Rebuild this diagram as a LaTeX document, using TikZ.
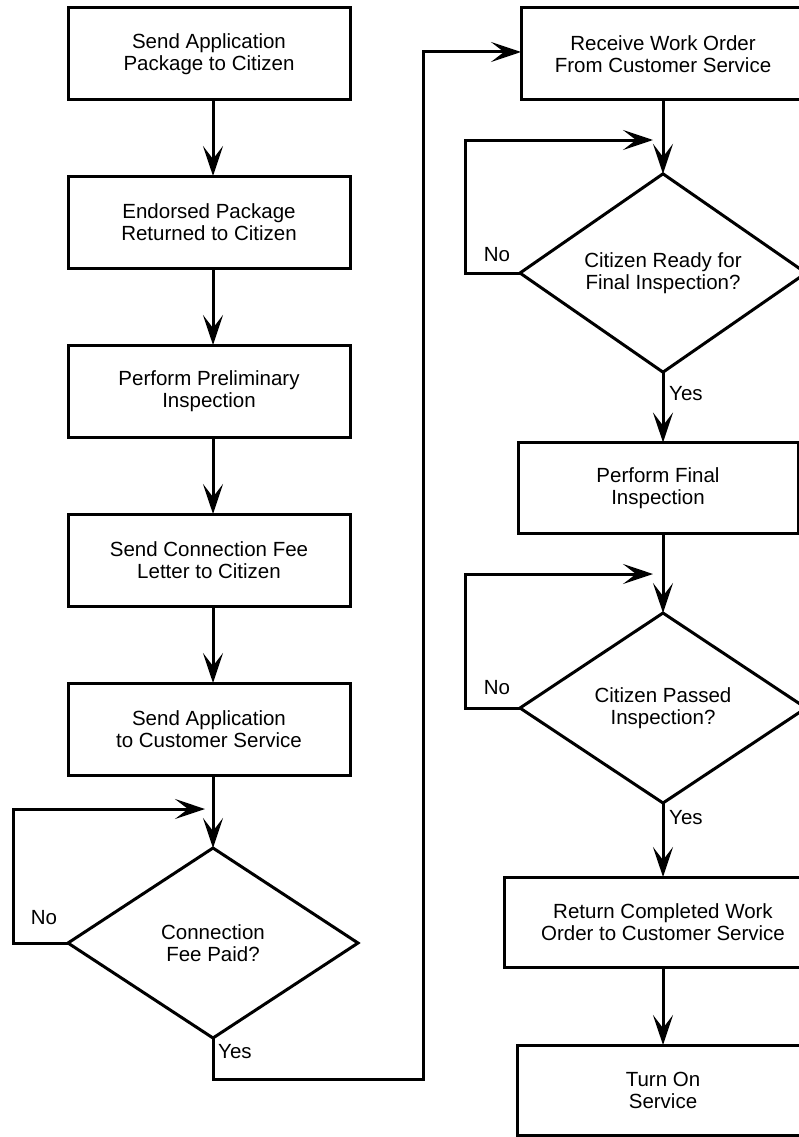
\documentclass[tikz,border=0pt]{standalone}
\usepackage{fontspec}
\setmainfont{Liberation Sans}
\usetikzlibrary{arrows.meta,shapes.geometric,calc}

\begin{document}
\begin{tikzpicture}[x=1pt, y=-1pt,
	box/.style={draw, rectangle, line width=3pt, minimum width=282pt, minimum height=92pt,
		inner sep=0pt, outer sep=0pt, align=center, font=\fontsize{20.5}{22}\selectfont},
	decision/.style={draw, diamond, line width=3pt, minimum width=290pt, minimum height=190pt,
		inner sep=0pt, outer sep=0pt, align=center, font=\fontsize{20.5}{22}\selectfont},
	flow/.style={line width=3pt, -{Stealth[length=30pt, width=20pt, inset=13pt]}},
	tag/.style={inner sep=0pt, font=\fontsize{20.5}{22}\selectfont}]
		
		% Page
		\fill[white] (0,0) rectangle (799,1137);
		\useasboundingbox (0,0) rectangle (799,1137);
		
		% Left column
		\node[box] (send) at (209,54) {Send Application\\Package to Citizen};
		\node[box] (endorsed) at (209,222) {Endorsed Package\\Returned to Citizen};
		\node[box] (prelim) at (209,391) {Perform Preliminary\\Inspection};
		\node[box] (letter) at (209,560) {Send Connection Fee\\Letter to Citizen};
		\node[box] (tocs) at (209,729) {Send Application\\to Customer Service};
		\node[decision] (paid) at (213,943) {Connection\\Fee Paid?};
		
		% Right column
		\node[box, minimum width=284pt] (receive) at (663,54) {Receive Work Order\\From Customer Service};
		\node[decision, minimum width=286pt] (ready) at (663,273) {Citizen Ready for\\Final Inspection?};
		\node[box, minimum width=280pt, minimum height=91pt] (final) at (658,488) {Perform Final\\Inspection};
		\node[decision, minimum width=286pt] (passed) at (663,708) {Citizen Passed\\Inspection?};
		\node[box, minimum width=318pt, minimum height=90pt] (return) at (663,922) {Return Completed Work\\Order to Customer Service};
		\node[box, minimum width=292pt, minimum height=90pt] (turnon) at (663,1090) {Turn On\\Service};
		
		% Coordinates
		\coordinate (j1) at (205,809);
		\coordinate (j2) at (653,140);
		\coordinate (j3) at (653,574);
		\coordinate (yes1) at (213,1079);
		\coordinate (up1) at (423,52);
		
		% Arrows
		\draw[flow] ($(send.south)+(4,0)$) -- ($(endorsed.north)+(4,0)$);
		\draw[flow] ($(endorsed.south)+(4,0)$) -- ($(prelim.north)+(4,0)$);
		\draw[flow] ($(prelim.south)+(4,0)$) -- ($(letter.north)+(4,0)$);
		\draw[flow] ($(letter.south)+(4,0)$) -- ($(tocs.north)+(4,0)$);
		\draw[flow] ($(tocs.south)+(4,0)$) -- (paid.north);
		\draw[flow] (paid.west) -- ++(-55,0) |- (j1);
		\draw[flow] (paid.south) -- (yes1) -| (up1) -- (receive.west |- up1);
		%
		\draw[flow] (receive.south) -- (ready.north);
		\draw[flow] (ready.west) -- ++(-55,0) |- (j2);
		\draw[flow] (ready.south) -- (ready.south |- final.north);
		\draw[flow] (ready.south |- final.south) -- (passed.north);
		\draw[flow] (passed.west) -- ++(-55,0) |- (j3);
		\draw[flow] (passed.south) -- (return.north);
		\draw[flow] (return.south) -- (turnon.north);
		
		% Labels
		\node[tag] (no1) at (44,918) {No};
		\node[tag] (no2) at (497,255) {No};
		\node[tag] (no3) at (497,688) {No};
		\node[tag, anchor=west] (yesa) at (218,1052) {Yes};
		\node[tag, anchor=west] (yesb) at (669,394) {Yes};
		\node[tag, anchor=west] (yesc) at (669,818) {Yes};
	\end{tikzpicture}
\end{document}
